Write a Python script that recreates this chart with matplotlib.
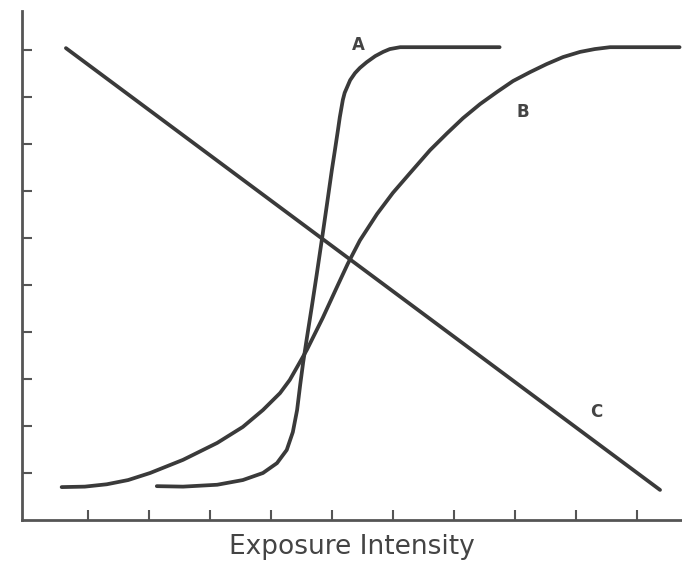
import matplotlib.pyplot as plt

# values, in tick units (ticks at 1..10 on both axes)
a_x = [2.13, 2.56, 3.12, 3.54, 3.87, 4.10, 4.26, 4.36, 4.43, 4.48, 4.53, 4.59,
       4.67, 4.75, 4.84, 4.92, 5.00, 5.05, 5.10, 5.13, 5.18, 5.21, 5.25, 5.30,
       5.38, 5.46, 5.57, 5.71, 5.84, 5.95, 6.12, 7.75]
a_y = [0.72, 0.71, 0.75, 0.85, 1.00, 1.21, 1.49, 1.87, 2.34, 2.87, 3.36, 3.87,
       4.53, 5.21, 6.00, 6.72, 7.45, 7.87, 8.30, 8.57, 8.94, 9.09, 9.21, 9.36,
       9.51, 9.62, 9.74, 9.87, 9.96, 10.02, 10.06, 10.06]

b_x = [0.57, 0.95, 1.31, 1.66, 2.02, 2.56, 3.12, 3.54, 3.87, 4.15, 4.31, 4.59,
       4.85, 5.07, 5.26, 5.46, 5.74, 6.00, 6.28, 6.61, 6.89, 7.15, 7.43, 7.71,
       7.97, 8.25, 8.52, 8.79, 9.07, 9.31, 9.56, 10.70]
b_y = [0.70, 0.71, 0.76, 0.85, 1.00, 1.28, 1.64, 1.98, 2.34, 2.70, 2.98, 3.62,
       4.30, 4.92, 5.45, 5.95, 6.51, 6.96, 7.38, 7.87, 8.23, 8.55, 8.85, 9.11,
       9.34, 9.53, 9.70, 9.85, 9.96, 10.02, 10.06, 10.06]

c_x = [0.64, 10.38]
c_y = [10.04, 0.64]

curve_names = ["A", "B", "C"]
name_x = [5.43, 8.13, 9.34]
name_y = [10.11, 8.68, 2.30]

ticks = [1, 2, 3, 4, 5, 6, 7, 8, 9, 10]

line_color = "#3a3a3a"

fig = plt.figure(figsize=(6.82, 5.61), dpi=100)
ax = fig.add_axes([22 / 682, 41 / 561, 660 / 682, 509 / 561])

for xs, ys in [(a_x, a_y), (b_x, b_y), (c_x, c_y)]:
    ax.plot(xs, ys, color=line_color, lw=2.7, solid_capstyle="round",
            solid_joinstyle="round")

for name, x, y in zip(curve_names, name_x, name_y):
    ax.text(x, y, name, ha="center", va="center", fontsize=12,
            fontweight="bold", color="#444444")

ax.set_xlim(-0.08, 10.74)
ax.set_ylim(0, 10.83)
ax.set_xticks(ticks)
ax.set_yticks(ticks)
ax.tick_params(direction="in", length=7, width=1.5, color="#555555",
               labelbottom=False, labelleft=False)

for side in ["top", "right"]:
    ax.spines[side].set_visible(False)
for side in ["left", "bottom"]:
    ax.spines[side].set_color("#555555")
    ax.spines[side].set_linewidth(2)

ax.set_xlabel("Exposure Intensity", fontsize=19, color="#444444", labelpad=10)

plt.savefig("out.png", dpi=100, facecolor="white")
plt.close()
